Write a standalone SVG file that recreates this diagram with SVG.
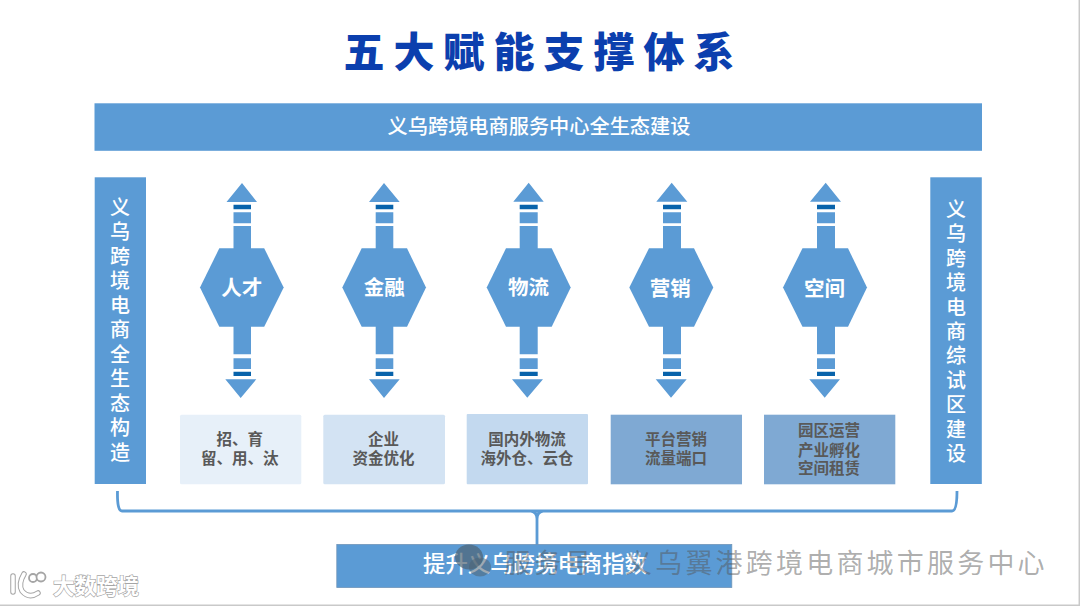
<svg xmlns="http://www.w3.org/2000/svg" width="1080" height="606" viewBox="0 0 1080 606">
<defs>
<style>
text{font-family:"Noto Sans CJK SC","Noto Sans",sans-serif;text-anchor:middle}
.main{fill:#5b9bd5}
.dark{fill:#0863ab}
.title{fill:#0b3fae;font-size:41px;font-weight:900;letter-spacing:9px;text-anchor:start}
.bar{font-size:20.200px;font-weight:500;fill:#fff}
.side{font-size:20px;font-weight:500;fill:#fff}
.hex{font-size:20.500px;font-weight:700;fill:#fff}
.box{font-size:15.500px;font-weight:700;fill:#595959}
.wm{fill:#555;fill-opacity:.48;font-size:27px;font-weight:400;letter-spacing:3.200px;text-anchor:start}
.brand{fill:#fff;stroke:#a5a5a5;stroke-width:1.300px;paint-order:stroke;font-size:21.500px;font-weight:700;text-anchor:start}
</style>
</defs>
<rect width="1080" height="606" fill="#fff"/>
<path d="M0 605.200H1079.300V0" fill="none" stroke="#c9c9c9" stroke-width="1.500"/>

<text class="title" x="343.500" y="66.500">五大赋能支撑体系</text>

<g id="connectors">
<path d="M117.500 491Q117 511 122 511H952Q957 511 957 491M531 511Q537 512 537 519V545M543 511Q537 512 537 519" fill="none" stroke="#5b9bd5" stroke-width="2.800"/>
<g id="arrows-talent">
<path class="main" d="M242 183L257 202H226.500ZM233.500 212.300H251V223.300H233.500ZM233.500 226H251V250H233.500ZM233.500 325H251V354.300H233.500ZM233.500 358.300H251V369H233.500ZM225.300 379.300H256.300L240.700 398Z"/>
<path class="dark" d="M233.500 204.700H251V209.300H233.500ZM233.500 371.700H251V376H233.500Z"/>
</g>
<g id="arrows-finance">
<path class="main" d="M384 183L399.700 202H369ZM375.700 212.300H393.300V223.300H375.700ZM375.700 226H393.300V250H375.700ZM375.700 325H393.300V354.300H375.700ZM375.700 358.300H393.300V369H375.700ZM369 379.300H399.700L384 398Z"/>
<path class="dark" d="M375.700 204.700H393.300V209.300H375.700ZM375.700 371.700H393.300V376H375.700Z"/>
</g>
<g id="arrows-logistics">
<path class="main" d="M528.700 182.700L543.700 201.700H513.300ZM519.700 212.300H537.700V223.300H519.700ZM519.700 226H537.700V250H519.700ZM519.700 325H537.700V354.300H519.700ZM519.700 358.300H537.700V369H519.700ZM512 379.300H543L527.300 397.700Z"/>
<path class="dark" d="M519.700 204.700H537.700V209.300H519.700ZM519.700 371.700H537.700V376H519.700Z"/>
</g>
<g id="arrows-marketing">
<path class="main" d="M671.700 182.700L687.300 201.700H656.300ZM663 212.300H681V223.300H663ZM663 226H681V250H663ZM663 325H681V354.300H663ZM663 358.300H681V369H663ZM655.700 379.300H686.700L671 397.700Z"/>
<path class="dark" d="M663 204.700H681V209.300H663ZM663 371.700H681V376H663Z"/>
</g>
<g id="arrows-space">
<path class="main" d="M825.700 182.700L841 201.700H810ZM817 212.300H835V223.300H817ZM817 226H835V250H817ZM817 325H835V354.300H817ZM817 358.300H835V369H817ZM809.300 379.300H840L824.700 397.700Z"/>
<path class="dark" d="M817 204.700H835V209.300H817ZM817 371.700H835V376H817Z"/>
</g>
</g>

<g id="top-bar">
<rect class="main" x="94.500" y="103.300" width="887.500" height="47.500"/>
<text class="bar" x="539" y="133.500">义乌跨境电商服务中心全生态建设</text>
</g>

<g id="left-panel">
<rect class="main" x="94.700" y="177.300" width="51.300" height="306.700"/>
<text class="side" x="120">
<tspan x="120" y="215">义</tspan><tspan x="120" dy="24.450">乌</tspan><tspan x="120" dy="24.450">跨</tspan><tspan x="120" dy="24.450">境</tspan><tspan x="120" dy="24.450">电</tspan><tspan x="120" dy="24.450">商</tspan><tspan x="120" dy="24.450">全</tspan><tspan x="120" dy="24.450">生</tspan><tspan x="120" dy="24.450">态</tspan><tspan x="120" dy="24.450">构</tspan><tspan x="120" dy="24.450">造</tspan>
</text>
</g>

<g id="right-panel">
<rect class="main" x="930.300" y="177.300" width="51.500" height="306.700"/>
<text class="side" x="956">
<tspan x="956" y="217">义</tspan><tspan x="956" dy="24.400">乌</tspan><tspan x="956" dy="24.400">跨</tspan><tspan x="956" dy="24.400">境</tspan><tspan x="956" dy="24.400">电</tspan><tspan x="956" dy="24.400">商</tspan><tspan x="956" dy="24.400">综</tspan><tspan x="956" dy="24.400">试</tspan><tspan x="956" dy="24.400">区</tspan><tspan x="956" dy="24.400">建</tspan><tspan x="956" dy="24.400">设</tspan>
</text>
</g>

<g id="node-talent">
<polygon class="main" points="200,287.500 219.300,248.300 264.200,248.300 283.700,287.500 264.200,326.700 219.300,326.700"/>
<text class="hex" x="241.800" y="295.300">人才</text>
</g>
<g id="node-finance">
<polygon class="main" points="342.300,287.500 361.700,248.300 407,248.300 426,287.500 407,326.700 361.700,326.700"/>
<text class="hex" x="384.300" y="295.300">金融</text>
</g>
<g id="node-logistics">
<polygon class="main" points="486.700,287.500 506,248.300 551.700,248.300 570.700,287.500 551.700,326.700 506,326.700"/>
<text class="hex" x="528.500" y="295.300">物流</text>
</g>
<g id="node-marketing">
<polygon class="main" points="629.300,287.500 649,248.300 694,248.300 713.300,287.500 694,326.700 649,326.700"/>
<text class="hex" x="670.300" y="295.500">营销</text>
</g>
<g id="node-space">
<polygon class="main" points="783,287.500 802.500,248.300 848,248.300 867,287.500 848,326.700 802.500,326.700"/>
<text class="hex" x="824.500" y="295.500">空间</text>
</g>

<g id="box-talent">
<rect x="180" y="414.700" width="121.300" height="69.600" rx="1.500" fill="#e7f0f9"/>
<text class="box" x="239.700" y="445.200">招、育</text>
<text class="box" x="239.700" y="464.200">留、用、汰</text>
</g>
<g id="box-finance">
<rect x="323.300" y="414.700" width="121.700" height="69.600" rx="1.500" fill="#d3e3f3"/>
<text class="box" x="383.500" y="445.200">企业</text>
<text class="box" x="383.500" y="464.200">资金优化</text>
</g>
<g id="box-logistics">
<rect x="466.700" y="414" width="121.300" height="70.300" rx="1" fill="#c3d9ef"/>
<text class="box" x="526.900" y="445.200">国内外物流</text>
<text class="box" x="526.900" y="464.200">海外仓、云仓</text>
</g>
<g id="box-marketing">
<rect x="610.700" y="414.700" width="131.300" height="69.600" fill="#7fa9d3"/>
<text class="box" x="676" y="444.800">平台营销</text>
<text class="box" x="676" y="464">流量端口</text>
</g>
<g id="box-space">
<rect x="764" y="414.700" width="131.300" height="69.600" fill="#7fa9d3"/>
<text class="box" x="829" y="436">园区运营</text>
<text class="box" x="829" y="455.500">产业孵化</text>
<text class="box" x="829" y="474">空间租赁</text>
</g>

<g id="index-bar">
<rect x="336.800" y="544.500" width="395" height="43" fill="#5b9bd5" stroke="#6f94b8" stroke-width=".8"/>
<text x="535" y="572" font-size="22.400" font-weight="500" fill="#fff">提升义乌跨境电商指数</text>
</g>

<g id="watermark">
<ellipse cx="469" cy="557" rx="14" ry="12.500" fill="#4f6474" fill-opacity=".7"/>
<ellipse cx="480" cy="567" rx="11" ry="9.500" fill="#4f6474" fill-opacity=".55"/>
<text class="wm" x="504" y="573">服务号</text>
<text class="wm" x="625" y="573">义乌翼港跨境电商城市服务中心</text>
</g>

<g id="brand">
<path d="M13 576V592M24 574Q18 584 22 591Q29 599 38 593" fill="none" stroke="#a5a5a5" stroke-width="5.500" stroke-linecap="round"/>
<path d="M13 576V592M24 574Q18 584 22 591Q29 599 38 593" fill="none" stroke="#fff" stroke-width="3.500" stroke-linecap="round"/>
<circle cx="33" cy="578" r="4" fill="#fff" stroke="#a5a5a5" stroke-width="1.800"/>
<circle cx="41" cy="577" r="4.500" fill="#fff" stroke="#a5a5a5" stroke-width="1.800"/>
<text class="brand" x="53" y="594">大数跨境</text>
</g>
</svg>
